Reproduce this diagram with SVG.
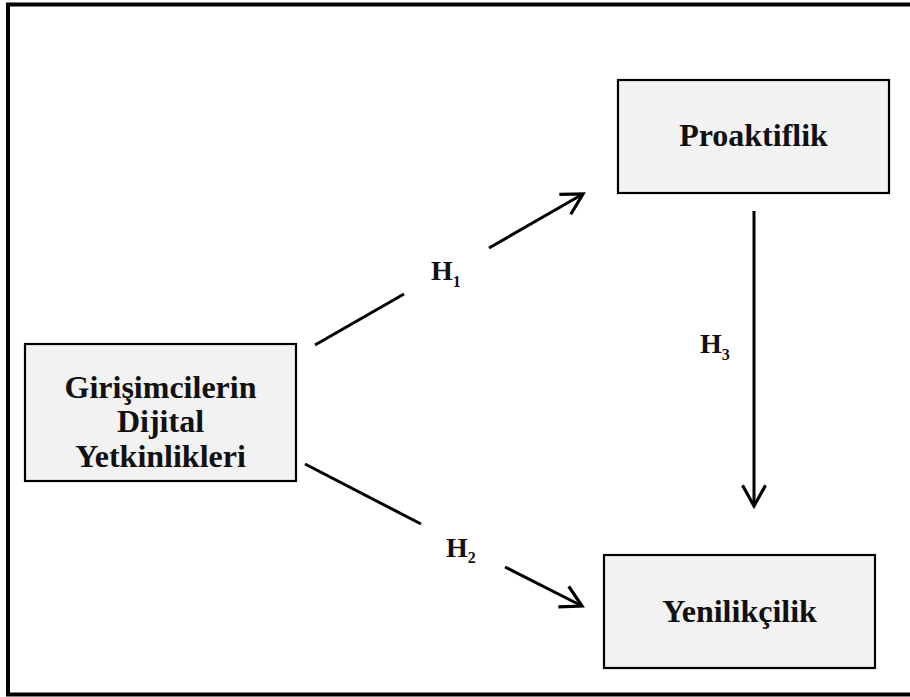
<svg xmlns="http://www.w3.org/2000/svg" width="910" height="697" viewBox="0 0 910 697">
  <style>
    .box { fill: #f2f2f2; stroke: #000; stroke-width: 2.2; }
    .t { font-family: "Liberation Serif", "Times New Roman", serif; font-weight: bold; font-size: 32px; fill: #111; text-anchor: middle; }
    .h { font-family: "Liberation Serif", "Times New Roman", serif; font-weight: bold; font-size: 28px; fill: #111; }
    .sub { font-size: 16px; }
    .conn { stroke: #000; stroke-width: 3; fill: none; }
  </style>
  <defs>
    <marker id="arrow" markerUnits="userSpaceOnUse" markerWidth="30" markerHeight="30" viewBox="-22 -14 26 28" refX="0" refY="0" orient="auto">
      <path d="M-18,-10 L0,0 L-18,10" fill="none" stroke="#000" stroke-width="3" stroke-linecap="square"/>
    </marker>
  </defs>
  <rect width="910" height="697" fill="#fff"/>
  <rect id="frame" x="8" y="4.5" width="920" height="690" fill="none" stroke="#000" stroke-width="4"/>

  <g id="node-girisimci">
    <rect class="box" x="25" y="344" width="271" height="137"/>
    <text class="t" x="160.5" y="398">Girişimcilerin</text>
    <text class="t" x="160.5" y="432">Dijital</text>
    <text class="t" x="160.5" y="467">Yetkinlikleri</text>
  </g>
  <g id="node-proaktiflik">
    <rect class="box" x="618" y="80" width="271" height="113"/>
    <text class="t" x="753.5" y="146">Proaktiflik</text>
  </g>
  <g id="node-yenilikcilik">
    <rect class="box" x="604" y="555" width="271" height="113"/>
    <text class="t" x="739.5" y="622">Yenilikçilik</text>
  </g>

  <g id="connectors">
    <line class="conn" x1="315" y1="345" x2="404" y2="294"/>
    <line class="conn" x1="489" y1="248" x2="583" y2="194" marker-end="url(#arrow)"/>
    <line class="conn" x1="305" y1="464" x2="421" y2="524"/>
    <line class="conn" x1="505" y1="567" x2="582" y2="606" marker-end="url(#arrow)"/>
    <line class="conn" x1="754" y1="211" x2="754" y2="506" marker-end="url(#arrow)"/>
  </g>

  <g id="labels">
    <text class="h" x="431" y="280">H<tspan class="sub" dy="7">1</tspan></text>
    <text class="h" x="446" y="557">H<tspan class="sub" dy="6">2</tspan></text>
    <text class="h" x="700" y="353">H<tspan class="sub" dy="7">3</tspan></text>
  </g>
</svg>
